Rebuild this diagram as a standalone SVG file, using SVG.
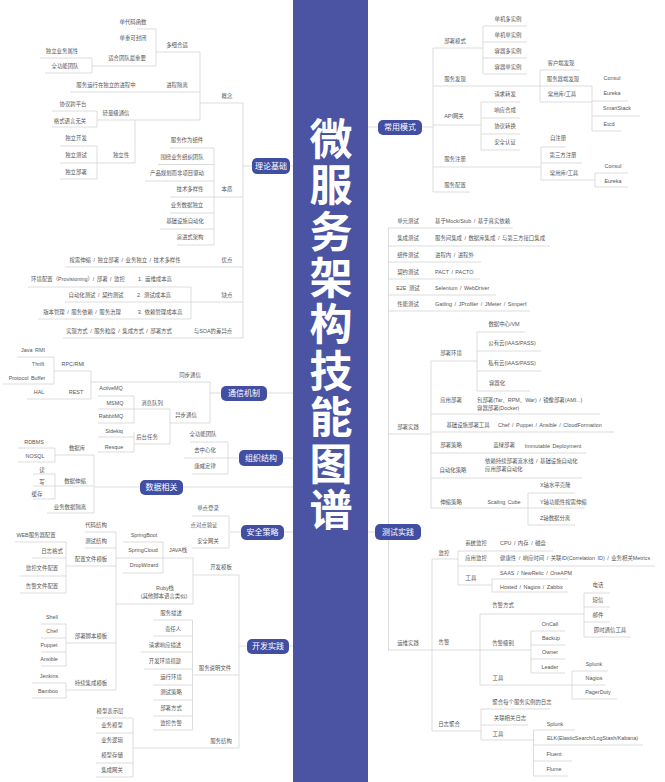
<svg xmlns="http://www.w3.org/2000/svg" width="665" height="782" viewBox="0 0 665 782">
<style>
text{font-family:"Liberation Sans","Noto Sans CJK SC",sans-serif;dominant-baseline:central}
.t{font-size:5.4px;fill:#555;text-anchor:middle;word-spacing:1px}
.l{font-size:5.4px;fill:#555;text-anchor:start;word-spacing:1px}
.c{fill:none;stroke:#cfcfcf;stroke-width:.7}
.b{fill:#414ea2}
.m{font-size:8px;fill:#fff;text-anchor:middle}
.h{font-size:43px;font-weight:700;fill:#fff;text-anchor:start;letter-spacing:3.4px;writing-mode:vertical-rl;text-orientation:upright;font-family:"Noto Sans CJK SC",sans-serif}
</style>
<rect width="665" height="782" fill="#fff"/>
<rect x="293" y="0" width="75" height="782" fill="#4a54a3"/>
<g id="connectors" class="c">
<path d="M137 29H156M156 29V66M92 66H156M156 52H200M200 52V120M70 92H200M97 120H200M200 103H243M243 103V338M40 58H92M92 58V73M45 73H92M52 111H97M97 111V127M52 127H97M135 120V163M60 163H135M60 146H97M97 146V179M60 179H97"/>
<path d="M170 148H214M158 164.500H214M145 181H214M170 197H243M170 213H214M160 229H214M177 245H214M214 148V245M243 166H252M290 166H293M65 267H243M28 287H191M65 302H243M38 319H191M191 287V319M63 338H243"/>
<path d="M17 357H54M3 384H54M54 357V384M54 371H91M91 371V399M27 399H91M91 382H210M210 382V423M170 423H210M210 393H221M267 393H293M98 396H134M98 409H170M98 423H134M134 396V423M98 437H134M98 452H134M134 432V452M134 444H170M170 409V444"/>
<path d="M184 458H239M283 458H293M228 442V474M190 442H228M192 474H228M95 487H140M183 487H293M18 448H55M18 462H55M55 448V462M55 455H94M94 455V513M47 513H94M33 474H55M33 486H94M33 499H55M55 474V499"/>
<path d="M229 516V548M192 516H229M192 548H229M230 532H241M284 532H293M239 575V748M239 646H247M289 646H293M193 575H239M116 558H193M193 558V604M163 542V573M123 542H163M123 573H163M116 604H193M116 532V690M85 532H116M85 548H116M66 566H116"/>
<path d="M66 542V593M15 542H66M32 558H66M20 576H66M20 593H66M66 643H116M66 624V666M41 624H66M41 638H66M41 652H66M41 666H66M66 690H116M66 683V698M32 683H66M32 698H66M193 675H239M192.500 620V730M153 620H192.500M153 636H192.500M141 652H192.500M144 669H192.500M153 685H192.500M153 700H192.500M153 716H192.500M153 730H192.500M133 748H239M133 718V777M96 718H133M96 733H133M96 763H133M96 777H133"/>
<path d="M368 127H378M422 127H433M433 48V192M433 48H483M483 26V74M483 26H527M483 42H527M483 58H527M483 74H527M433 86H592M540 70V102M540 70H580M540 102H592M592 86V131M592 101H628M592 116H640M592 131H621M433 125H481M481 102V150M481 102H520M481 118H520M481 134H520M481 150H520M433 167H541M541 147V180M541 147H566M541 163H582M541 180H595M595 173V187M595 173H628M595 187H628M433 192H470"/>
<path d="M368 532H375M388.500 228V650M388 228H513M388 246H550M388 262H481M388 279H480M388 295H496M388 311H530M431 361H477M477 332V391M477 332H525M477 351H541M477 371H541M477 391H530M388 434H431M431 361V508M431 414H600M431 432H614M431 453H586M431 478H582M431 508H585M528 493V525M528 493H575M528 525H575"/>
<path d="M432 559H458M432 559V731M458 551V585M458 551H553M458 566H655M458 585H492M492 579V592M492 579H568M492 592H568M388 650H531M480 614V685M480 614H584M584 593V637M584 593H610M584 607H610M584 622H610M584 637H631M531 631V673M531 631H565M531 645H565M531 659H565M531 673H565M480 685H572M572 671V699M572 671H608M572 685H605M572 699H617M432 731H481M481 709V740M481 709H550M481 725H528M481 740H534M533.500 730V776M533.500 730H575M533.500 745H643M533.500 761H572M533.500 776H568"/>
</g>
<g id="title"><text class="h" x="331" y="117">微服务架构技能图谱</text></g>
<g id="topic-theory"><rect class="b" x="252" y="158" width="38" height="16" rx="5"/><text class="m" x="271" y="166">理论基础</text></g>
<g id="topic-comm"><rect class="b" x="221" y="386" width="46" height="15" rx="5"/><text class="m" x="244" y="393">通信机制</text></g>
<g id="topic-org"><rect class="b" x="239" y="450" width="44" height="16" rx="5"/><text class="m" x="261" y="458">组织结构</text></g>
<g id="topic-data"><rect class="b" x="140" y="480" width="43" height="15" rx="5"/><text class="m" x="161.500" y="487.500">数据相关</text></g>
<g id="topic-sec"><rect class="b" x="241" y="525" width="43" height="15" rx="5"/><text class="m" x="262.500" y="532.500">安全策略</text></g>
<g id="topic-dev"><rect class="b" x="247" y="639" width="42" height="15" rx="5"/><text class="m" x="268" y="646.500">开发实践</text></g>
<g id="topic-pattern"><rect class="b" x="378" y="120" width="44" height="15" rx="5"/><text class="m" x="400" y="127.500">常用模式</text></g>
<g id="topic-test"><rect class="b" x="375" y="524" width="46" height="16" rx="5"/><text class="m" x="398" y="532">测试实践</text></g>
<g id="labels-theory">
<g id="a1"><text class="t" x="133" y="22">单代码函数</text></g>
<g id="a2"><text class="t" x="133" y="38">单重可封闭</text></g>
<g id="a3"><text class="t" x="127" y="58">适合团队最重要</text></g>
<g id="a4"><text class="t" x="62" y="51">独立业务属性</text></g>
<g id="a5"><text class="t" x="65" y="66">全功能团队</text></g>
<g id="a6"><text class="t" x="177" y="45">多细合适</text></g>
<g id="a7"><text class="t" x="106" y="85">服务运行在独立的进程中</text></g>
<g id="a8"><text class="t" x="177" y="85">进程隔离</text></g>
<g id="a9"><text class="t" x="227" y="96">概念</text></g>
<g id="a10"><text class="t" x="73" y="104">协议跨平台</text></g>
<g id="a11"><text class="t" x="70" y="121">格式语言无关</text></g>
<g id="a12"><text class="t" x="116" y="113">轻量级通信</text></g>
<g id="a13"><text class="t" x="76" y="138">独立开发</text></g>
<g id="a14"><text class="t" x="76" y="155">独立测试</text></g>
<g id="a15"><text class="t" x="76" y="172">独立部署</text></g>
<g id="a16"><text class="t" x="121" y="155">独立性</text></g>
<g id="a17"><text class="t" x="187" y="140">服务作为组件</text></g>
<g id="a18"><text class="t" x="182" y="157">围绕业务组织团队</text></g>
<g id="a19"><text class="t" x="177" y="173">产品规划而非项目驱动</text></g>
<g id="a20"><text class="t" x="190" y="189">技术多样性</text></g>
<g id="a21"><text class="t" x="187" y="205">业务数据独立</text></g>
<g id="a22"><text class="t" x="185" y="221">基础设施自动化</text></g>
<g id="a23"><text class="t" x="190" y="237">演进式架构</text></g>
<g id="a24"><text class="t" x="227" y="189">本质</text></g>
<g id="a25"><text class="t" x="125" y="260">按需伸缩 / 独立部署 / 业务独立 / 技术多样性</text></g>
<g id="a26"><text class="t" x="227" y="260">优点</text></g>
<g id="a27"><text class="t" x="78" y="279">环境配置（Provisioning）/ 部署 / 监控</text></g>
<g id="a28"><text class="t" x="155" y="279">1. 运维成本高</text></g>
<g id="a29"><text class="t" x="96" y="295">自动化测试 / 契约测试</text></g>
<g id="a30"><text class="t" x="154" y="295">2. 测试成本高</text></g>
<g id="a31"><text class="t" x="82" y="312">版本管理 / 服务依赖 / 服务治理</text></g>
<g id="a32"><text class="t" x="160" y="312">3. 依赖管理成本高</text></g>
<g id="a33"><text class="t" x="227" y="295">缺点</text></g>
<g id="a34"><text class="t" x="119" y="331">实现方式 / 服务粒度 / 集成方式 / 部署方式</text></g>
<g id="a35"><text class="t" x="213" y="331">与SOA的差异点</text></g>
</g>
<g id="labels-comm">
<g id="b1"><text class="t" x="33" y="350">Java RMI</text></g>
<g id="b2"><text class="t" x="38" y="364">Thrift</text></g>
<g id="b3"><text class="t" x="27" y="378">Protocol Buffer</text></g>
<g id="b4"><text class="t" x="39" y="392">HAL</text></g>
<g id="b5"><text class="t" x="73" y="364">RPC/RMI</text></g>
<g id="b6"><text class="t" x="76" y="392">REST</text></g>
<g id="b7"><text class="t" x="190" y="375">同步通信</text></g>
<g id="b8"><text class="t" x="111" y="388">ActiveMQ</text></g>
<g id="b9"><text class="t" x="115" y="403">MSMQ</text></g>
<g id="b10"><text class="t" x="111" y="416">RabbitMQ</text></g>
<g id="b11"><text class="t" x="114" y="431">Sidekiq</text></g>
<g id="b12"><text class="t" x="114" y="447">Resque</text></g>
<g id="b13"><text class="t" x="152" y="403">消息队列</text></g>
<g id="b14"><text class="t" x="147" y="437">后台任务</text></g>
<g id="b15"><text class="t" x="186" y="415">异步通信</text></g>
<g id="c1"><text class="t" x="203" y="434">全功能团队</text></g>
<g id="c2"><text class="t" x="205" y="450">去中心化</text></g>
<g id="c3"><text class="t" x="205" y="466">康威定律</text></g>
<g id="d1"><text class="t" x="34" y="442">RDBMS</text></g>
<g id="d2"><text class="t" x="35" y="456">NOSQL</text></g>
<g id="d3"><text class="t" x="77" y="448">数据库</text></g>
<g id="d4"><text class="t" x="42" y="470">读</text></g>
<g id="d5"><text class="t" x="42" y="482">写</text></g>
<g id="d6"><text class="t" x="37" y="494">缓存</text></g>
<g id="d7"><text class="t" x="75" y="481">数据伸缩</text></g>
<g id="d8"><text class="t" x="70" y="507">业务数据隔离</text></g>
<g id="e1"><text class="t" x="208" y="508">单点登录</text></g>
<g id="e2"><text class="t" x="204" y="525">点对点验证</text></g>
<g id="e3"><text class="t" x="208" y="541">安全网关</text></g>
</g>
<g id="labels-dev">
<g id="f1"><text class="t" x="221" y="567">开发模板</text></g>
<g id="f2"><text class="t" x="178" y="550">JAVA栈</text></g>
<g id="f3"><text class="t" x="144" y="535">SpringBoot</text></g>
<g id="f4"><text class="t" x="143" y="550">SpringCloud</text></g>
<g id="f5"><text class="t" x="144" y="565">DropWizard</text></g>
<g id="f6"><text class="t" x="165" y="588">Ruby栈</text></g>
<g id="f7"><text class="t" x="164" y="596">(其他脚本语言类似)</text></g>
<g id="f8"><text class="t" x="96" y="525">代码结构</text></g>
<g id="f9"><text class="t" x="96" y="541">测试结构</text></g>
<g id="f10"><text class="t" x="91" y="559">配置文件模板</text></g>
<g id="f11"><text class="t" x="36" y="535">WEB服务器配置</text></g>
<g id="f12"><text class="t" x="52" y="551">日志格式</text></g>
<g id="f13"><text class="t" x="42" y="568">监控文件配置</text></g>
<g id="f14"><text class="t" x="42" y="586">告警文件配置</text></g>
<g id="f15"><text class="t" x="91" y="636">部署脚本模板</text></g>
<g id="f16"><text class="t" x="91" y="683">持续集成模板</text></g>
<g id="f17"><text class="t" x="52" y="617">Shell</text></g>
<g id="f18"><text class="t" x="52" y="631">Chef</text></g>
<g id="f19"><text class="t" x="49" y="645">Puppet</text></g>
<g id="f20"><text class="t" x="49" y="659">Ansible</text></g>
<g id="f21"><text class="t" x="49" y="676">Jenkins</text></g>
<g id="f22"><text class="t" x="48" y="691">Bamboo</text></g>
<g id="f23"><text class="t" x="215" y="668">服务说明文件</text></g>
<g id="f24"><text class="t" x="171" y="613">服务描述</text></g>
<g id="f25"><text class="t" x="173" y="629">责任人</text></g>
<g id="f26"><text class="t" x="165" y="645">请求响应描述</text></g>
<g id="f27"><text class="t" x="165" y="661">开发环境搭建</text></g>
<g id="f28"><text class="t" x="171" y="677">运行环境</text></g>
<g id="f29"><text class="t" x="171" y="692">测试策略</text></g>
<g id="f30"><text class="t" x="171" y="708">部署方式</text></g>
<g id="f31"><text class="t" x="171" y="723">监控告警</text></g>
<g id="f32"><text class="t" x="221" y="741">服务结构</text></g>
<g id="f33"><text class="t" x="110" y="711">模型表示层</text></g>
<g id="f34"><text class="t" x="112" y="725">业务模型</text></g>
<g id="f35"><text class="t" x="112" y="740">业务逻辑</text></g>
<g id="f36"><text class="t" x="112" y="755">模型存储</text></g>
<g id="f37"><text class="t" x="112" y="770">集成网关</text></g>
</g>
<g id="labels-pattern">
<g id="p1"><text class="t" x="455" y="41">部署模式</text></g>
<g id="p2"><text class="t" x="508" y="19">单机多实例</text></g>
<g id="p3"><text class="t" x="508" y="35">单机单实例</text></g>
<g id="p4"><text class="t" x="508" y="51">容器多实例</text></g>
<g id="p5"><text class="t" x="508" y="67">容器单实例</text></g>
<g id="p6"><text class="t" x="455" y="79">服务发现</text></g>
<g id="p7"><text class="t" x="561" y="63">客户端发现</text></g>
<g id="p8"><text class="t" x="563" y="79">服务器端发现</text></g>
<g id="p9"><text class="t" x="562" y="94">常用库/工具</text></g>
<g id="p10"><text class="t" x="612" y="78">Consul</text></g>
<g id="p11"><text class="t" x="612" y="93">Eureka</text></g>
<g id="p12"><text class="t" x="617" y="108">SmartStack</text></g>
<g id="p13"><text class="t" x="609" y="124">Etcd</text></g>
<g id="p14"><text class="t" x="454" y="116">API网关</text></g>
<g id="p15"><text class="t" x="505" y="94">请求转发</text></g>
<g id="p16"><text class="t" x="505" y="110">响应合成</text></g>
<g id="p17"><text class="t" x="505" y="126">协议转换</text></g>
<g id="p18"><text class="t" x="505" y="142">安全认证</text></g>
<g id="p19"><text class="t" x="455" y="159">服务注册</text></g>
<g id="p20"><text class="t" x="558" y="138">自注册</text></g>
<g id="p21"><text class="t" x="563" y="155">第三方注册</text></g>
<g id="p22"><text class="t" x="564" y="173">常用库/工具</text></g>
<g id="p23"><text class="t" x="613" y="166">Consul</text></g>
<g id="p24"><text class="t" x="613" y="181">Eureka</text></g>
<g id="p25"><text class="t" x="455" y="185">服务配置</text></g>
</g>
<g id="labels-test">
<g id="q1"><text class="t" x="408" y="221">单元测试</text></g>
<g id="q2"><text class="t" x="408" y="238">集成测试</text></g>
<g id="q3"><text class="t" x="408" y="255">组件测试</text></g>
<g id="q4"><text class="t" x="408" y="272">契约测试</text></g>
<g id="q5"><text class="t" x="408" y="288">E2E 测试</text></g>
<g id="q6"><text class="t" x="408" y="304">性能测试</text></g>
<g id="q7"><text class="l" x="435" y="221">基于Mock/Stub / 基于真实依赖</text></g>
<g id="q8"><text class="l" x="435" y="238">服务间集成 / 数据库集成 / 与第三方接口集成</text></g>
<g id="q9"><text class="l" x="435" y="255">进程内 / 进程外</text></g>
<g id="q10"><text class="l" x="435" y="272">PACT / PACTO</text></g>
<g id="q11"><text class="l" x="435" y="288">Selenium / WebDriver</text></g>
<g id="q12"><text class="l" x="435" y="304">Gatling / JProfiler / JMeter / Simperf</text></g>
<g id="q13"><text class="t" x="451" y="353">部署环境</text></g>
<g id="q14"><text class="t" x="504" y="324">数据中心/VM</text></g>
<g id="q15"><text class="t" x="512" y="343">公有云(IAAS/PASS)</text></g>
<g id="q16"><text class="t" x="512" y="363">私有云(IAAS/PASS)</text></g>
<g id="q17"><text class="t" x="497" y="383">容器化</text></g>
<g id="q18"><text class="t" x="408" y="427">部署实践</text></g>
<g id="q19"><text class="t" x="451" y="400">应用部署</text></g>
<g id="q20"><text class="l" x="477" y="400">包部署(Tar、RPM、War)  /  镜像部署(AMI...)</text></g>
<g id="q21"><text class="l" x="477" y="408">容器部署(Docker)</text></g>
<g id="q22"><text class="t" x="468" y="425">基础设施部署工具</text></g>
<g id="q23"><text class="l" x="498" y="425">Chef / Puppet / Ansible / CloudFormation</text></g>
<g id="q24"><text class="t" x="451" y="445">部署策略</text></g>
<g id="q25"><text class="t" x="504" y="445">蓝绿部署</text></g>
<g id="q26"><text class="t" x="553" y="446">Immutable Deployment</text></g>
<g id="q27"><text class="t" x="453" y="470">自动化策略</text></g>
<g id="q28"><text class="l" x="485" y="461">依赖持续部署流水线 / 基础设施自动化</text></g>
<g id="q29"><text class="l" x="485" y="469">应用部署自动化</text></g>
<g id="q30"><text class="t" x="451" y="502">伸缩策略</text></g>
<g id="q31"><text class="t" x="504" y="502">Scaling Cube</text></g>
<g id="q32"><text class="l" x="540" y="485">X轴水平克隆</text></g>
<g id="q33"><text class="l" x="540" y="502">Y轴功能性按需伸缩</text></g>
<g id="q34"><text class="l" x="540" y="518">Z轴数据分离</text></g>
<g id="q35"><text class="t" x="444" y="553">监控</text></g>
<g id="q36"><text class="t" x="476" y="543">系统监控</text></g>
<g id="q37"><text class="l" x="500" y="543">CPU / 内存 / 磁盘</text></g>
<g id="q38"><text class="t" x="476" y="558">应用监控</text></g>
<g id="q39"><text class="l" x="500" y="558">健康性 / 响应时间 / 关联ID(Correlation ID) / 业务相关Metrics</text></g>
<g id="q40"><text class="t" x="471" y="578">工具</text></g>
<g id="q41"><text class="l" x="500" y="573">SAAS / NewRelic / OneAPM</text></g>
<g id="q42"><text class="l" x="500" y="587">Hosted / Nagios / Zabbix</text></g>
<g id="q43"><text class="t" x="408" y="643">运维实践</text></g>
<g id="q44"><text class="t" x="444" y="642">告警</text></g>
<g id="q45"><text class="t" x="503" y="605">告警方式</text></g>
<g id="q46"><text class="t" x="503" y="643">告警级别</text></g>
<g id="q47"><text class="t" x="498" y="678">工具</text></g>
<g id="q48"><text class="t" x="598" y="585">电话</text></g>
<g id="q49"><text class="t" x="598" y="600">短信</text></g>
<g id="q50"><text class="t" x="598" y="615">邮件</text></g>
<g id="q51"><text class="t" x="610" y="630">即时通信工具</text></g>
<g id="q52"><text class="t" x="550" y="624">OnCall</text></g>
<g id="q53"><text class="t" x="551" y="638">Backup</text></g>
<g id="q54"><text class="t" x="550" y="652">Owner</text></g>
<g id="q55"><text class="t" x="550" y="667">Leader</text></g>
<g id="q56"><text class="t" x="594" y="664">Splunk</text></g>
<g id="q57"><text class="t" x="594" y="678">Nagios</text></g>
<g id="q58"><text class="t" x="598" y="692">PagerDuty</text></g>
<g id="q59"><text class="t" x="449" y="724">日志聚合</text></g>
<g id="q60"><text class="t" x="522" y="702">聚合每个服务实例的日志</text></g>
<g id="q61"><text class="t" x="510" y="718">关联相关日志</text></g>
<g id="q62"><text class="t" x="498" y="734">工具</text></g>
<g id="q63"><text class="t" x="555" y="724">Splunk</text></g>
<g id="q64"><text class="l" x="547" y="738">ELK(ElasticSearch/LogStash/Kabana)</text></g>
<g id="q65"><text class="t" x="554" y="754">Fluent</text></g>
<g id="q66"><text class="t" x="554" y="769">Flume</text></g>
</g>
</svg>
